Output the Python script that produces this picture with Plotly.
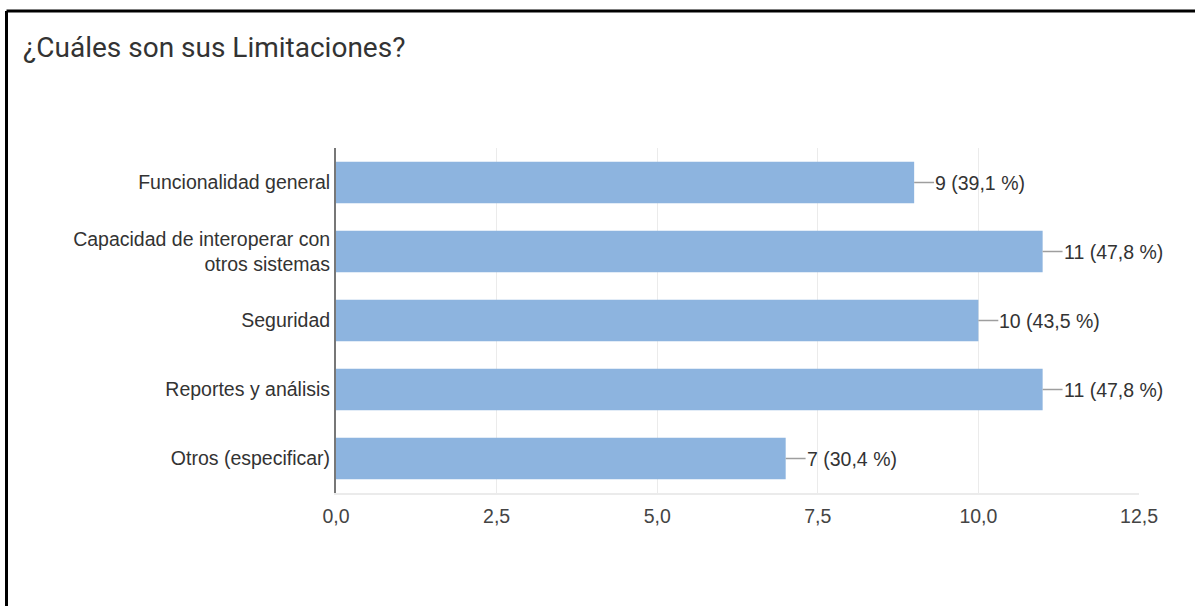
import plotly.graph_objects as go

categories = [
    "Funcionalidad general",
    "Capacidad de interoperar con<br>otros sistemas",
    "Seguridad",
    "Reportes y análisis",
    "Otros (especificar)",
]
counts = [9, 11, 10, 11, 7]
percents = ["39,1", "47,8", "43,5", "47,8", "30,4"]
tick_vals = [0, 2.5, 5, 7.5, 10, 12.5]

W, H = 1195, 606
L, R, T, B = 336, 56, 148, 113
plot_w = W - L - R
plot_h = H - T - B

fig = go.Figure(
    go.Bar(
        x=counts,
        y=categories,
        orientation="h",
        marker=dict(color="#8db4df", line=dict(width=0)),
        hoverinfo="skip",
    )
)

label_font = dict(family="Arial, Liberation Sans, sans-serif", size=19.5, color="#333333")
leader = 0.31  # leader line length in data units

shapes = []
annotations = []
for cat, c, p in zip(categories, counts, percents):
    shapes.append(dict(type="line", xref="x", yref="y", x0=c, x1=c + leader,
                       y0=cat, y1=cat, line=dict(color="#9e9e9e", width=1.5)))
    annotations.append(dict(xref="x", yref="y", x=c + leader, y=cat,
                            text=f"{c} ({p} %)", showarrow=False,
                            xanchor="left", yanchor="middle", xshift=-1,
                            font=label_font))

# frame lines along the top and left of the page
top_y = (H - B - 11) / plot_h
left_x = (6.5 - L) / plot_w
shapes.append(dict(type="line", xref="paper", yref="paper", x0=left_x, x1=(W - L) / plot_w + 0.01,
                   y0=top_y, y1=top_y, line=dict(color="#000000", width=3), layer="above"))
shapes.append(dict(type="line", xref="paper", yref="paper", x0=left_x, x1=left_x,
                   y0=top_y, y1=-(B + 5) / plot_h, line=dict(color="#000000", width=3), layer="above"))

fig.update_layout(
    width=W,
    height=H,
    margin=dict(l=L, r=R, t=T, b=B),
    paper_bgcolor="white",
    plot_bgcolor="white",
    separators=",.",
    bargap=0.4,
    showlegend=False,
    title=dict(
        text="¿Cuáles son sus Limitaciones?",
        xref="container", yref="container",
        x=23 / W, y=1 - 47 / H, xanchor="left", yanchor="middle",
        font=dict(family="Roboto, Arial, sans-serif", size=28, color="#333333"),
    ),
    xaxis=dict(
        range=[0, 12.5],
        tickvals=tick_vals,
        tickformat=".1f",
        showgrid=True,
        gridcolor="#ebebeb",
        gridwidth=1,
        zeroline=False,
        showline=True,
        linecolor="#ebebeb",
        linewidth=2,
        ticks="",
        ticklabelstandoff=5,
        tickfont=dict(family="Arial, Liberation Sans, sans-serif", size=19.5, color="#444444"),
        fixedrange=True,
    ),
    yaxis=dict(
        autorange="reversed",
        showgrid=False,
        showline=True,
        linecolor="#777777",
        linewidth=2,
        ticks="",
        ticklabelstandoff=0,
        tickfont=label_font,
        fixedrange=True,
    ),
    shapes=shapes,
    annotations=annotations,
)

fig.write_html("out.html", config={"displayModeBar": False})
